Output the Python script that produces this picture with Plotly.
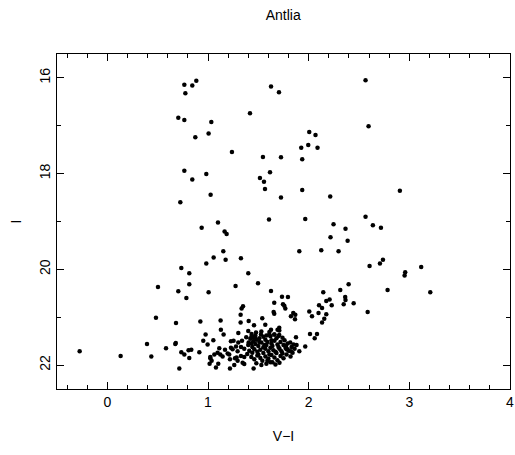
import plotly.graph_objects as go

# Colour index V-I and magnitude I for each star
vi = [
    0.765, 0.884, 0.844, 0.775, 1.626, 1.705, 2.565, 1.417, 0.705, 0.765,
    1.033, 2.595, 1.006, 2.006, 2.068, 0.874, 1.996, 1.926, 2.088, 1.238,
    1.546, 1.725, 1.936, 0.765, 1.616, 0.983, 1.516, 0.844, 1.556, 1.566,
    1.936, 2.906, 1.026, 2.214, 1.725, 0.725, 2.565, 1.966, 1.606, 1.099,
    2.247, 2.638, 2.718, 0.937, 2.366, 1.165, 1.185, 2.217, 2.387, 1.907,
    2.125, 2.297, 1.152, 1.056, 1.327, 1.175, 2.738, 2.708, 0.983, 2.605,
    3.118, 0.735, 2.959, 2.953, 0.814, 1.400, 1.497, 0.814, 2.397, 1.274,
    0.503, 2.784, 2.314, 1.626, 0.705, 1.006, 2.145, 3.208, 1.735, 1.794,
    2.363, 0.785, 2.208, 2.366, 2.175, 1.658, 2.447, 2.348, 1.745, 2.103,
    2.229, 1.758, 1.348, 2.133, 1.768, 1.334, 2.006, 2.586, 1.652, 1.847,
    2.098, 1.658, 2.175, 1.324, 1.867, 2.033, 1.824, 0.483, 1.539, 2.155,
    1.864, 1.125, 1.404, 0.924, 2.133, 1.324, 0.682, 1.569, 1.457, 1.708,
    1.626, 1.128, 1.691, 1.708, 1.301, 1.477, 2.013, 2.083, 1.433, 1.155,
    0.976, 1.526, 1.874, 2.060, 0.953, 1.053, 1.254, 1.338, 1.228, 1.301,
    1.404, 1.817, 0.675, 0.680, 0.394, 0.996, 1.850, 1.966, 1.278, 1.228,
    0.583, 1.169, 0.834, 0.807, 1.907, -0.275, 1.294, 0.735, 0.914, 1.095,
    1.195, 0.765, 1.063, 1.122, 0.132, 1.327, 0.437, 1.360, 0.814, 1.023,
    1.268, 1.218, 1.036, 1.294, 1.344, 1.016, 1.102, 1.360, 1.261, 1.079,
    0.715, 1.453, 1.218,
    1.400, 1.433, 1.467, 1.328, 1.112, 1.023, 1.145, 1.211, 1.244, 1.284,
    1.42, 1.45, 1.48, 1.51, 1.55, 1.58, 1.62, 1.66, 1.70, 1.74,
    1.40, 1.44, 1.47, 1.50, 1.53, 1.56, 1.59, 1.63, 1.66, 1.69, 1.72, 1.76, 1.79, 1.83,
    1.41, 1.44, 1.46, 1.49, 1.52, 1.55, 1.57, 1.60, 1.62, 1.65, 1.68, 1.71, 1.73, 1.77, 1.80, 1.86,
    1.43, 1.46, 1.49, 1.52, 1.54, 1.57, 1.60, 1.63, 1.66, 1.69, 1.72, 1.75, 1.78, 1.82,
    1.48, 1.53, 1.58, 1.62, 1.67, 1.71, 1.59,
    1.38, 1.36, 1.39, 1.47, 1.53, 1.61, 1.57, 1.64, 1.68, 1.75, 1.50, 1.55, 1.61, 1.70,
    1.74, 1.45, 1.51, 1.67, 1.58, 1.43, 1.63, 1.78, 1.84, 1.88,
    1.609, 1.658, 1.708, 1.775, 1.791, 1.824, 1.64,
]
imag = [
    16.14, 16.06, 16.16, 16.32, 16.18, 16.30, 16.05, 16.74, 16.83, 16.88,
    16.92, 17.01, 17.16, 17.13, 17.19, 17.24, 17.40, 17.46, 17.46, 17.55,
    17.65, 17.66, 17.70, 17.94, 17.97, 18.01, 18.09, 18.12, 18.17, 18.32,
    18.34, 18.36, 18.44, 18.48, 18.50, 18.60, 18.90, 18.95, 18.96, 19.02,
    19.06, 19.08, 19.13, 19.13, 19.15, 19.21, 19.26, 19.33, 19.40, 19.62,
    19.60, 19.62, 19.62, 19.75, 19.77, 19.80, 19.80, 19.88, 19.88, 19.93,
    19.95, 19.97, 20.06, 20.13, 20.08, 20.08, 20.29, 20.31, 20.31, 20.35,
    20.37, 20.43, 20.43, 20.45, 20.46, 20.48, 20.48, 20.48, 20.57, 20.58,
    20.58, 20.60, 20.63, 20.64, 20.66, 20.70, 20.71, 20.73, 20.73, 20.75,
    20.75, 20.76, 20.77, 20.81, 20.82, 20.82, 20.88, 20.89, 20.89, 20.91,
    20.91, 20.93, 20.94, 20.95, 20.95, 20.98, 20.98, 21.01, 21.02, 21.03,
    21.04, 21.07, 21.08, 21.09, 21.11, 21.11, 21.12, 21.16, 21.17, 21.22,
    21.26, 21.26, 21.26, 21.28, 21.33, 21.32, 21.35, 21.35, 21.35, 21.36,
    21.36, 21.36, 21.42, 21.44, 21.49, 21.48, 21.49, 21.49, 21.50, 21.53,
    21.53, 21.53, 21.56, 21.54, 21.56, 21.57, 21.57, 21.61, 21.61, 21.64,
    21.65, 21.68, 21.68, 21.69, 21.71, 21.71, 21.71, 21.73, 21.73, 21.74,
    21.76, 21.78, 21.78, 21.78, 21.81, 21.81, 21.82, 21.83, 21.85, 21.86,
    21.86, 21.88, 21.91, 21.91, 21.95, 21.97, 21.97, 21.98, 22.00, 22.05,
    22.07, 22.07, 22.07,
    21.29, 21.40, 21.42, 21.62, 21.65, 21.83, 21.82, 21.78, 21.67, 21.84,
    21.45, 21.50, 21.47, 21.44, 21.41, 21.38, 21.40, 21.36, 21.39, 21.43,
    21.58, 21.62, 21.56, 21.60, 21.53, 21.58, 21.52, 21.55, 21.49, 21.57, 21.52, 21.48, 21.55, 21.62,
    21.70, 21.74, 21.67, 21.72, 21.68, 21.75, 21.66, 21.71, 21.64, 21.69, 21.75, 21.66, 21.71, 21.64, 21.70, 21.66,
    21.83, 21.88, 21.80, 21.85, 21.91, 21.82, 21.87, 21.79, 21.84, 21.90, 21.81, 21.86, 21.78, 21.82,
    21.96, 22.00, 21.97, 21.94, 21.99, 21.95, 21.91,
    21.42, 21.66, 21.77, 21.38, 21.30, 21.31, 21.47, 21.60, 21.44, 21.58, 21.78, 21.63, 21.78, 21.62,
    21.76, 21.43, 21.52, 21.72, 21.58, 21.55, 21.48, 21.67, 21.74, 21.58,
    21.36, 21.36, 21.37, 21.60, 21.67, 21.71, 21.94,
]

x_ticks = [0, 1, 2, 3, 4]
y_ticks = [16, 18, 20, 22]

FONT = "Liberation Sans, DejaVu Sans, sans-serif"
X_RANGE = [-0.5, 4]
Y_RANGE = [22.5, 15.5]

fig = go.Figure()
fig.add_trace(go.Scatter(
    x=vi, y=imag, mode="markers",
    marker=dict(color="black", size=4.5, line=dict(width=0)),
    hoverinfo="skip",
))
# invisible copy on the top/right frame axes so their inside ticks are drawn
fig.add_trace(go.Scatter(
    x=vi, y=imag, mode="markers", xaxis="x2", yaxis="y2",
    marker=dict(color="black", size=4.5, opacity=0), hoverinfo="skip",
))

tick_common = dict(
    showline=True, linecolor="black", linewidth=1.2,
    ticks="inside", tickcolor="black", tickwidth=1, ticklen=7,
    showgrid=False, zeroline=False, automargin=False,
    tickfont=dict(family=FONT, size=14, color="black"),
)
x_minor = dict(ticks="inside", dtick=0.2, tick0=0, ticklen=4,
               tickcolor="black", tickwidth=1, showgrid=False)
y_minor = dict(ticks="inside", dtick=1, tick0=16, ticklen=4,
               tickcolor="black", tickwidth=1, showgrid=False)

fig.update_layout(
    width=515, height=455,
    margin=dict(l=57, r=5, t=54, b=66),
    paper_bgcolor="white", plot_bgcolor="white",
    showlegend=False,
    title=dict(text="Antlia", x=0.55, xanchor="center", y=1 - 15 / 455,
               yanchor="middle",
               font=dict(family=FONT, size=14, color="black")),
    xaxis=dict(
        **tick_common, range=X_RANGE, tickvals=x_ticks,
        ticktext=[str(t) for t in x_ticks], minor=x_minor,
        title=dict(text="V\u2212I", font=dict(family=FONT, size=14, color="black"),
                   standoff=22),
    ),
    yaxis=dict(
        **tick_common, range=Y_RANGE, tickvals=y_ticks,
        ticktext=[str(t) for t in y_ticks], tickangle=-90, minor=y_minor,
        title=dict(text="I", font=dict(family=FONT, size=14, color="black"),
                   standoff=12),
    ),
    xaxis2=dict(
        **tick_common, range=X_RANGE, tickvals=x_ticks, showticklabels=False,
        minor=x_minor, overlaying="x", side="top", anchor="y2",
    ),
    yaxis2=dict(
        **tick_common, range=Y_RANGE, tickvals=y_ticks, showticklabels=False,
        minor=y_minor, overlaying="y", side="right", anchor="x2",
    ),
)

fig.write_html(
    "out.html",
    config={"displayModeBar": False, "staticPlot": True},
    post_script="document.body.style.margin='0px';document.body.style.overflow='hidden';",
)
